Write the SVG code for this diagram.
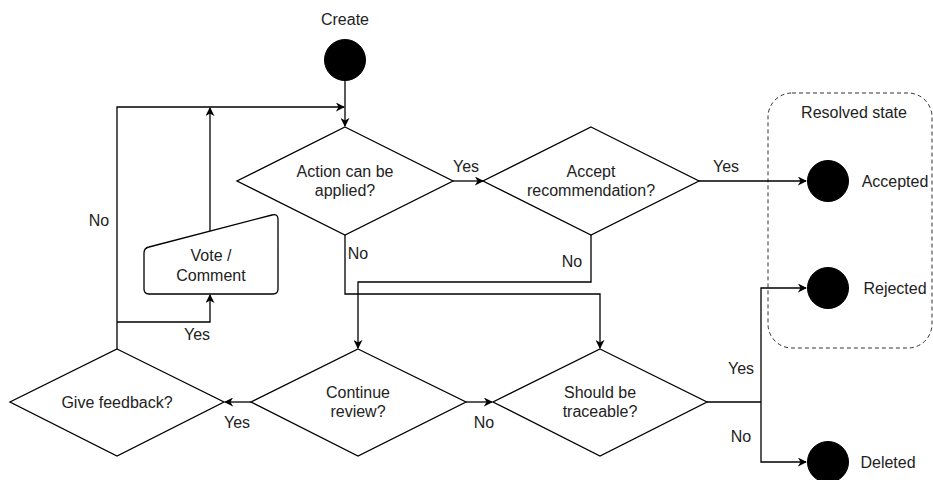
<svg xmlns="http://www.w3.org/2000/svg" width="933" height="480" viewBox="0 0 933 480">
<defs>
<marker id="arr" viewBox="0 0 10 10" refX="9" refY="5" markerWidth="9" markerHeight="9" markerUnits="userSpaceOnUse" orient="auto">
<path d="M0,0 L10,5 L0,10 L3,5 Z" fill="#000"/>
</marker>
</defs>
<style>
.n{fill:#fff;stroke:#000;stroke-width:1.3}
.c{fill:none;stroke:#000;stroke-width:1.3;marker-end:url(#arr)}
.l{fill:none;stroke:#000;stroke-width:1.3}
.d{fill:#000;stroke:#000}
text{font-family:"Liberation Sans",Arial,sans-serif;font-size:16px;fill:#222;text-anchor:middle}
</style>
<rect width="933" height="480" fill="#fff"/>
<g id="resolved">
<rect x="768" y="93" width="164" height="255" rx="24" fill="none" stroke="#333" stroke-dasharray="4 3"/>
<text x="854" y="118">Resolved state</text>
</g>
<g id="connectors">
<path class="c" d="M345,81 V126"/>
<path class="c" d="M117,349 V107 H344"/>
<path class="c" d="M210,232 V108"/>
<path class="c" d="M117,322 H210 V295"/>
<path class="c" d="M453,181 H483"/>
<path class="c" d="M345,235 V294 H600 V348"/>
<path class="c" d="M591,235 V282 H358 V348"/>
<path class="c" d="M699,181 H806"/>
<path class="c" d="M251,402 H225"/>
<path class="c" d="M466,402 H492"/>
<path class="l" d="M707,402 H761"/>
<path class="c" d="M761,402 V288 H806"/>
<path class="c" d="M761,402 V462 H806"/>
<text x="466" y="172">Yes</text>
<text x="726" y="172">Yes</text>
<text x="358" y="259">No</text>
<text x="572" y="267">No</text>
<text x="99" y="226">No</text>
<text x="197" y="340">Yes</text>
<text x="237" y="428">Yes</text>
<text x="484" y="428">No</text>
<text x="741" y="374">Yes</text>
<text x="741" y="442">No</text>
</g>
<g id="create">
<text x="345" y="25">Create</text>
<circle class="d" cx="345" cy="60" r="20.5"/>
</g>
<g id="action">
<path class="n" d="M345,127 L453,181 L345,235 L237,181 Z"/>
<text x="345" y="176.5">Action can be</text>
<text x="345" y="196">applied?</text>
</g>
<g id="accept">
<path class="n" d="M591,127 L699,181 L591,235 L483,181 Z"/>
<text x="591" y="176.5">Accept</text>
<text x="591" y="196">recommendation?</text>
</g>
<g id="vote">
<path class="n" d="M149,247 L272,215 Q278,213.5 278,219 V289 Q278,294 273,294 H149 Q144,294 144,289 V253 Q144,248 149,247 Z"/>
<text x="211" y="261">Vote /</text>
<text x="211" y="281">Comment</text>
</g>
<g id="feedback">
<path class="n" d="M117,349 L224,402 L117,456 L10,402 Z"/>
<text x="117" y="408">Give feedback?</text>
</g>
<g id="continue">
<path class="n" d="M358,349 L466,402 L358,456 L251,402 Z"/>
<text x="358" y="398">Continue</text>
<text x="358" y="417">review?</text>
</g>
<g id="traceable">
<path class="n" d="M600,349 L707,402 L600,456 L493,402 Z"/>
<text x="600" y="398">Should be</text>
<text x="600" y="417">traceable?</text>
</g>
<g id="accepted">
<circle class="d" cx="828" cy="181" r="20.5"/>
<text x="895" y="187">Accepted</text>
</g>
<g id="rejected">
<circle class="d" cx="828" cy="288" r="20.5"/>
<text x="895" y="294">Rejected</text>
</g>
<g id="deleted">
<circle class="d" cx="828" cy="462" r="20.5"/>
<text x="888" y="468">Deleted</text>
</g>
</svg>
